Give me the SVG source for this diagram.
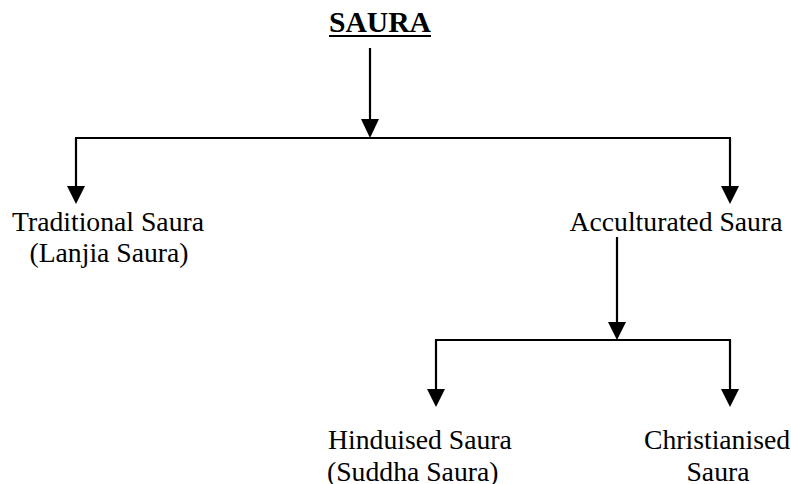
<svg xmlns="http://www.w3.org/2000/svg" width="791" height="484" viewBox="0 0 791 484">
<style>
  .t { font-family: "Liberation Serif", "Times New Roman", serif; font-size: 27.7px; fill: #000; }
  .title { font-family: "Liberation Serif", "Times New Roman", serif; font-size: 29.5px; font-weight: bold; fill: #000; }
  .ln { stroke: #000; stroke-width: 2.2; fill: none; }
  .ah { fill: #000; }
</style>
<rect width="791" height="484" fill="#fff"/>
<g id="connectors">
  <path class="ln" d="M370 48 V124"/>
  <polygon class="ah" points="361,119 379,119 370,138"/>
  <path class="ln" d="M75 138 H731"/>
  <path class="ln" d="M76 138 V190"/>
  <polygon class="ah" points="67,186 85,186 76,204"/>
  <path class="ln" d="M730 138 V190"/>
  <polygon class="ah" points="721,186 739,186 730,204"/>
  <path class="ln" d="M617 237 V326"/>
  <polygon class="ah" points="608,322 626,322 617,340"/>
  <path class="ln" d="M435 340 H731"/>
  <path class="ln" d="M436 340 V393"/>
  <polygon class="ah" points="427,389 445,389 436,407"/>
  <path class="ln" d="M730 340 V393"/>
  <polygon class="ah" points="721,389 739,389 730,407"/>
</g>
<g id="saura">
  <text class="title" x="329" y="32" textLength="102" lengthAdjust="spacingAndGlyphs">SAURA</text>
  <rect x="329" y="35" width="102" height="2" fill="#000"/>
</g>
<g id="traditional">
  <text class="t" x="108" y="231" text-anchor="middle">Traditional Saura</text>
  <text class="t" x="109" y="262" text-anchor="middle">(Lanjia Saura)</text>
</g>
<g id="acculturated">
  <text class="t" x="676" y="231" text-anchor="middle">Acculturated Saura</text>
</g>
<g id="hinduised">
  <text class="t" x="328" y="449">Hinduised Saura</text>
  <text class="t" x="327" y="481">(Suddha Saura)</text>
</g>
<g id="christianised">
  <text class="t" x="717" y="449" text-anchor="middle">Christianised</text>
  <text class="t" x="718" y="481" text-anchor="middle">Saura</text>
</g>
</svg>
